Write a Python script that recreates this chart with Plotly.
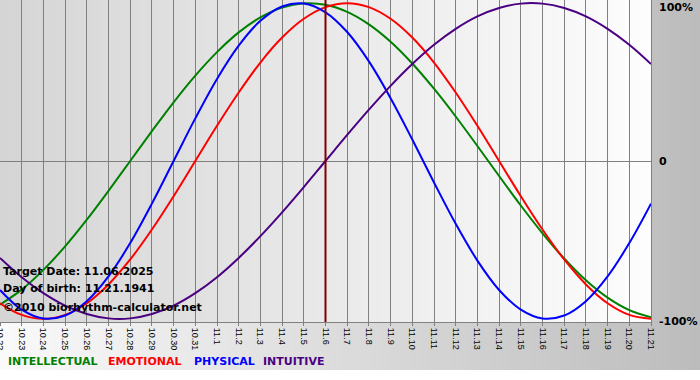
import plotly.graph_objects as go

# ---------------- data ----------------
days = ["10.22", "10.23", "10.24", "10.25", "10.26", "10.27", "10.28", "10.29", "10.30", "10.31",
        "11.1", "11.2", "11.3", "11.4", "11.5", "11.6", "11.7", "11.8", "11.9", "11.10",
        "11.11", "11.12", "11.13", "11.14", "11.15", "11.16", "11.17", "11.18", "11.19", "11.20", "11.21"]

physical = [-0.817, -0.942, -0.998, -0.979, -0.888, -0.731, -0.520, -0.270, 0.0, 0.270,
            0.520, 0.731, 0.888, 0.979, 0.998, 0.942, 0.817, 0.631, 0.398, 0.136,
            -0.136, -0.398, -0.631, -0.817, -0.942, -0.998, -0.979, -0.888, -0.731, -0.520, -0.270]

emotional = [-0.901, -0.975, -1.0, -0.975, -0.901, -0.782, -0.624, -0.434, -0.223, 0.0,
             0.223, 0.434, 0.624, 0.782, 0.901, 0.975, 1.0, 0.975, 0.901, 0.782,
             0.624, 0.434, 0.223, 0.0, -0.223, -0.434, -0.624, -0.782, -0.901, -0.975, -1.0]

intellectual = [-0.910, -0.815, -0.690, -0.541, -0.372, -0.189, 0.0, 0.189, 0.372, 0.541,
                0.690, 0.815, 0.910, 0.972, 0.999, 0.990, 0.945, 0.866, 0.756, 0.618,
                0.458, 0.282, 0.095, -0.095, -0.282, -0.458, -0.618, -0.756, -0.866, -0.945, -0.990]

intuitive = [-0.614, -0.736, -0.837, -0.916, -0.969, -0.997, -0.997, -0.969, -0.916, -0.837,
             -0.736, -0.614, -0.476, -0.325, -0.165, 0.0, 0.165, 0.325, 0.476, 0.614,
             0.736, 0.837, 0.916, 0.969, 0.997, 0.997, 0.969, 0.916, 0.837, 0.736, 0.614]

series_names = ["INTELLECTUAL", "EMOTIONAL", "PHYSICAL", "INTUITIVE"]
series_colors = ["#008000", "#ff0000", "#0000ff", "#4b0082"]

target_day = "11.6"
y_tick_values = [1, 0, -1]
y_tick_labels = ["100%", "0", "-100%"]

info_lines = ["Target Date: 11.06.2025", "Day of birth: 11.21.1941", "\u00a92010 biorhythm-calculator.net"]

# ---------------- figure ----------------
W, H = 700, 380
ML, MR, MT, MB = 0, 49, 0, 58
PW, PH = W - ML - MR, H - MT - MB


def px_x(px):
    return (px - ML) / PW


def px_y(py):
    return (H - MB - py) / PH


fig = go.Figure()

series_values = [intellectual, emotional, physical, intuitive]
for name, vals, col in zip(series_names, series_values, series_colors):
    fig.add_trace(go.Scatter(x=days, y=vals, mode="lines", name=name,
                             line=dict(color=col, width=2, shape="spline", smoothing=1.0),
                             hoverinfo="x+y+name"))

# target date marker
fig.add_trace(go.Scatter(x=[target_day, target_day], y=[-1.05, 1.05], mode="lines",
                         line=dict(color="#800000", width=2), hoverinfo="skip"))

shapes = []
# figure background: horizontal gradient, white -> gray
N = 70
for i in range(N):
    x0p = i * W / N
    x1p = (i + 1) * W / N + 0.6
    c = int(round(250 - (250 - 188) * (i + 0.5) / N))
    shapes.append(dict(type="rect", xref="paper", yref="paper",
                       x0=px_x(x0p), x1=px_x(x1p), y0=px_y(370), y1=px_y(-2),
                       fillcolor=f"rgb({c},{c},{c})", line=dict(width=0), layer="below"))
# plot area background: horizontal gradient, light gray -> white
N2 = 70
for i in range(N2):
    x0p = i * PW / N2
    x1p = min((i + 1) * PW / N2 + 0.6, PW)
    c = int(round(213 - (213 - 253) * (i + 0.5) / N2))
    shapes.append(dict(type="rect", xref="paper", yref="paper",
                       x0=px_x(x0p), x1=px_x(x1p), y0=0, y1=1,
                       fillcolor=f"rgb({c},{c},{c})", line=dict(width=0), layer="below"))

annotations = []
# right-hand value labels, placed on the y axis scale
label_shift = [-4, 0, -3]
for val, lab, sh in zip(y_tick_values, y_tick_labels, label_shift):
    annotations.append(dict(text=lab, xref="paper", yref="y", x=px_x(657), y=val, yshift=sh,
                            xanchor="left", yanchor="middle", showarrow=False,
                            font=dict(family="DejaVu Sans", size=11, color="black", weight="bold")))

info_y = [271, 288, 307]
for txt, yy in zip(info_lines, info_y):
    annotations.append(dict(text=txt, xref="paper", yref="paper", x=px_x(1), y=px_y(yy),
                            xanchor="left", yanchor="middle", showarrow=False,
                            font=dict(family="DejaVu Sans", size=11, color="black", weight="bold")))

legend_x = [6, 106, 192, 261]
for name, col, lx in zip(series_names, series_colors, legend_x):
    annotations.append(dict(text=name, xref="paper", yref="paper", x=px_x(lx), y=px_y(361),
                            xanchor="left", yanchor="middle", showarrow=False,
                            font=dict(family="DejaVu Sans", size=11, color=col, weight="bold")))

fig.update_layout(
    width=W, height=H,
    margin=dict(l=ML, r=MR, t=MT, b=MB, pad=0, autoexpand=False),
    paper_bgcolor="white",
    plot_bgcolor="rgba(0,0,0,0)",
    showlegend=False,
    shapes=shapes,
    annotations=annotations,
    xaxis=dict(type="category", categoryorder="array", categoryarray=days,
               range=[0, len(days) - 1], tickangle=90, automargin=False,
               ticks="outside", ticklen=3, tickcolor="#808080",
               showgrid=True, gridcolor="#808080", gridwidth=1,
               showline=True, linecolor="#808080", linewidth=1, mirror=True,
               tickfont=dict(family="Liberation Sans", size=9, color="black"),
               fixedrange=True),
    yaxis=dict(range=[-1.02, 1.02], side="right", automargin=False,
               tickvals=y_tick_values, showticklabels=False,
               ticks="", showgrid=False,
               zeroline=True, zerolinecolor="#808080", zerolinewidth=1,
               showline=True, linecolor="#808080", linewidth=1, mirror=True,
               fixedrange=True),
)

fig.write_html("out.html",
               config={"displayModeBar": False},
               post_script="document.body.style.margin='0';document.body.style.padding='0';")
